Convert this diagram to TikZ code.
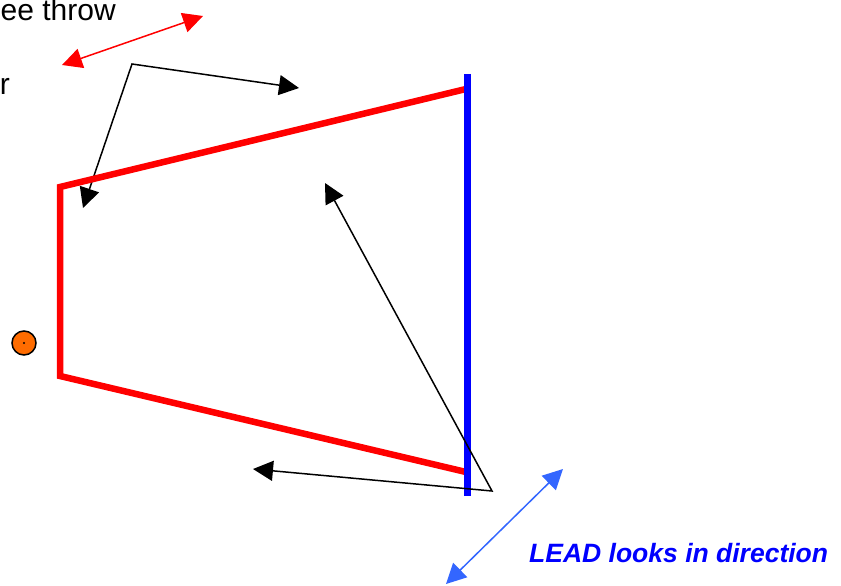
\documentclass[tikz,border=0pt]{standalone}
\usepackage{fontspec}
\setmainfont{Liberation Sans}
\usetikzlibrary{arrows.meta}
\definecolor{leadblue}{HTML}{3366FF}
\definecolor{dotorange}{HTML}{FF6C00}
\tikzset{
  tipT/.tip={Triangle[length=20pt,width=20pt]},
  blackarrow/.style={draw=black, line width=1.5pt, tipT-tipT, line join=miter},
  redarrow/.style={draw=red, line width=1.5pt, {tipT}-{tipT}, color=red},
  bluearrow/.style={draw=leadblue, line width=1.5pt, {tipT}-{tipT}, color=leadblue},
  redframe/.style={draw=red, line width=6.5pt, line join=miter},
  blueline/.style={draw=blue, line width=7pt},
  bigtext/.style={inner sep=0pt, font=\fontsize{30}{32}\selectfont}
}
\begin{document}
\begin{tikzpicture}[x=1pt,y=-1pt]
\useasboundingbox (0,0) rectangle (841,586);
% partial texts at the top left
\node[bigtext, anchor=base east] (txtA) at (116,20.5) {ee throw};
\node[bigtext, anchor=base east] (txtB) at (10,95) {r};
% red double arrow
\coordinate (ra1) at (62,65);
\coordinate (ra2) at (203,16);
\draw[redarrow] (ra1) -- (ra2);
% first black bent arrow
\coordinate (ba1) at (299,88);
\coordinate (bapex1) at (132,64);
\coordinate (ba2) at (83,208);
\draw[blackarrow] (ba1) -- (bapex1) -- (ba2);
% red frame
\coordinate (rtr) at (466,89);
\coordinate (rtl) at (60,187);
\coordinate (rbl) at (60,376);
\coordinate (rbr) at (466,472);
\draw[redframe] (rtr) -- (rtl) -- (rbl) -- (rbr);
% blue vertical line
\coordinate (bt) at (467,74);
\coordinate (bb) at (467,496);
\draw[blueline] (bt) -- (bb);
% second black bent arrow
\coordinate (bb1) at (325,183);
\coordinate (bapex2) at (492,491);
\coordinate (bb2) at (253,469);
\draw[blackarrow] (bb1) -- (bapex2) -- (bb2);
% orange dot
\node[circle, draw=black, line width=1.5pt, fill=dotorange, minimum size=24pt, inner sep=0pt] (dot) at (24,343) {};
\fill[black] (dot.center) circle (1.2pt);
% blue double arrow
\coordinate (la1) at (446,584);
\coordinate (la2) at (563,469);
\draw[bluearrow] (la1) -- (la2);
% label
\node[inner sep=0pt, anchor=base west, text=blue, font=\fontsize{26.5}{28}\selectfont\bfseries\itshape] (lead) at (529,562) {LEAD looks in direction};
\end{tikzpicture}
\end{document}
